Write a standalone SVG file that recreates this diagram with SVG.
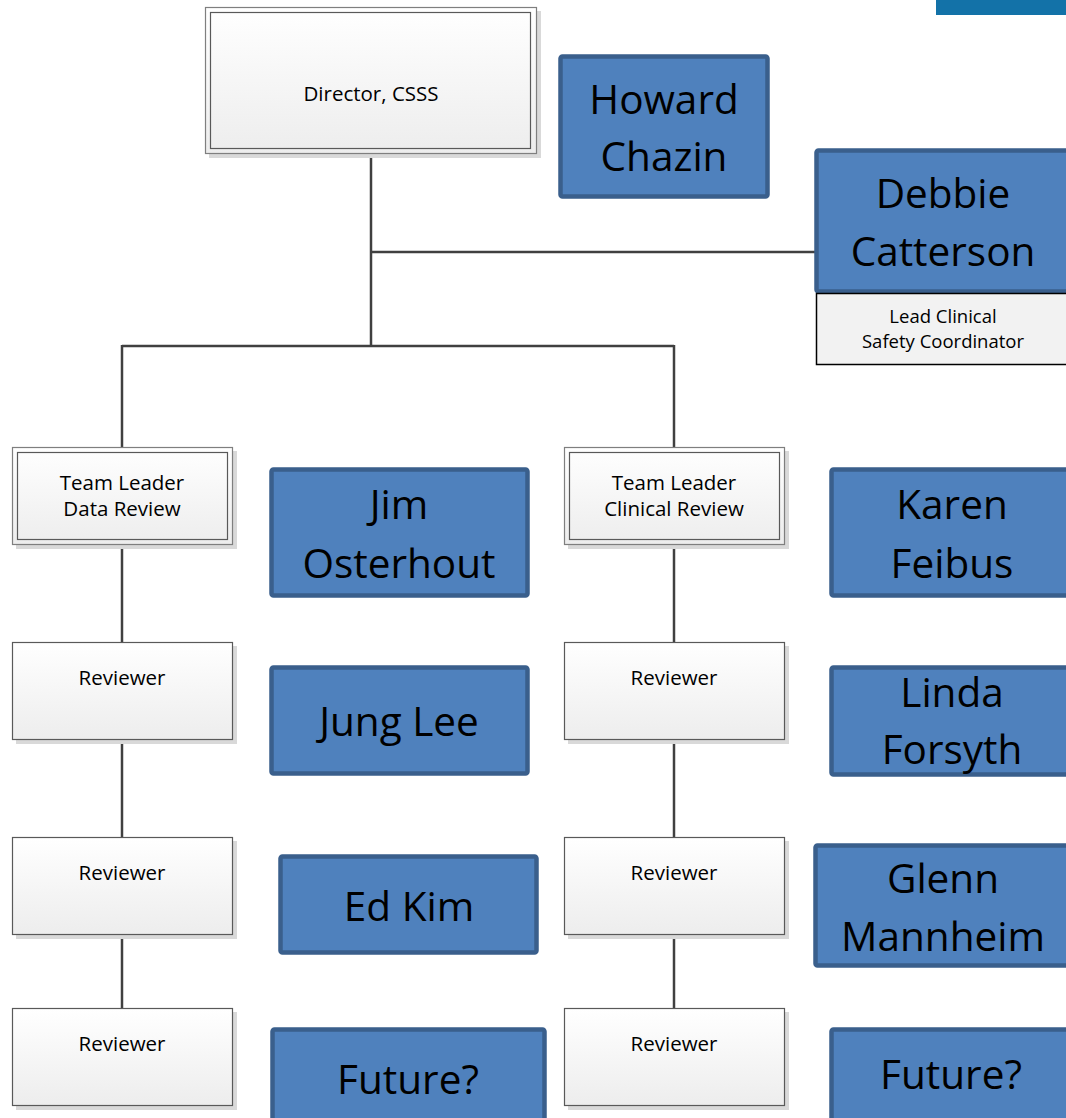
<svg xmlns="http://www.w3.org/2000/svg" width="1066" height="1118" viewBox="0 0 1066 1118">
<defs>
<linearGradient id="gw" x1="0" y1="0" x2="0" y2="1">
<stop offset="0" stop-color="#FFFFFF"/>
<stop offset="1" stop-color="#EDEDED"/>
</linearGradient>
</defs>
<style>
.shadow{fill:#D9D9D9;stroke:none}
.outer{fill:url(#gw);stroke:#7F7F7F;stroke-width:1.2}
.inner{fill:none;stroke:#595959;stroke-width:1.2}
.rev{fill:url(#gw);stroke:#595959;stroke-width:1.2}
.blue{fill:#4F81BD;stroke:#3A5F8C;stroke-width:4.5}
.sub{fill:#F2F2F2;stroke:#000000;stroke-width:1.5}
.conn line{stroke:#404040;stroke-width:2.5;fill:none}
.s{font-family:"Open Sans","Noto Sans",sans-serif;font-size:20.5px;fill:#000;text-anchor:middle}
.b{font-family:"Open Sans","Noto Sans",sans-serif;font-size:40.5px;fill:#000;text-anchor:middle}
</style>
<rect x="936" y="0" width="130" height="15" fill="#1372A8"/>
<g class="conn" id="connectors">
<line x1="371" y1="154" x2="371" y2="346"/>
<line x1="371" y1="252" x2="815" y2="252"/>
<line x1="122" y1="346" x2="674" y2="346"/>
<line x1="122" y1="345" x2="122" y2="447"/>
<line x1="674" y1="345" x2="674" y2="447"/>
<line x1="122" y1="545" x2="122" y2="642"/>
<line x1="122" y1="740" x2="122" y2="837"/>
<line x1="122" y1="935" x2="122" y2="1008"/>
<line x1="674" y1="545" x2="674" y2="642"/>
<line x1="674" y1="740" x2="674" y2="837"/>
<line x1="674" y1="935" x2="674" y2="1008"/>
</g>
<g id="director">
<rect class="shadow" x="209" y="11" width="332" height="147"/>
<rect class="outer" x="205.5" y="7.5" width="331" height="146"/>
<rect class="inner" x="210.5" y="12.5" width="320" height="136"/>
<text class="s" x="371" y="101">Director, CSSS</text>
</g>
<g id="howard">
<rect class="blue" x="560.5" y="56.5" width="207" height="140" rx="2"/>
<text class="b" x="664" y="114">Howard</text>
<text class="b" x="664" y="171">Chazin</text>
</g>
<g id="debbie">
<rect class="blue" x="816.5" y="150.5" width="260" height="141" rx="2"/>
<text class="b" x="943" y="208">Debbie</text>
<text class="b" x="943" y="266">Catterson</text>
<rect class="sub" x="816.5" y="293.5" width="260" height="71"/>
<text class="s" x="943" y="323" style="font-size:18.5px">Lead Clinical</text>
<text class="s" x="943" y="348" style="font-size:18.5px">Safety Coordinator</text>
</g>
<g id="tl-data">
<rect class="shadow" x="16" y="451" width="221" height="98"/>
<rect class="outer" x="12.5" y="447.5" width="220" height="97"/>
<rect class="inner" x="17.5" y="452.5" width="210" height="87"/>
<text class="s" x="122" y="490">Team Leader</text>
<text class="s" x="122" y="516">Data Review</text>
</g>
<g id="tl-clinical">
<rect class="shadow" x="568" y="451" width="221" height="98"/>
<rect class="outer" x="564.5" y="447.5" width="220" height="97"/>
<rect class="inner" x="569.5" y="452.5" width="210" height="87"/>
<text class="s" x="674" y="490">Team Leader</text>
<text class="s" x="674" y="516">Clinical Review</text>
</g>
<g id="jim">
<rect class="blue" x="271.5" y="469.5" width="256" height="126" rx="2"/>
<text class="b" x="399" y="519">Jim</text>
<text class="b" x="399" y="578">Osterhout</text>
</g>
<g id="karen">
<rect class="blue" x="831.5" y="469.5" width="245" height="126" rx="2"/>
<text class="b" x="952" y="519">Karen</text>
<text class="b" x="952" y="578">Feibus</text>
</g>
<g id="rev-l1">
<rect class="shadow" x="16" y="646" width="221" height="98"/>
<rect class="rev" x="12.5" y="642.5" width="220" height="97"/>
<text class="s" x="122" y="685">Reviewer</text>
</g>
<g id="rev-l2">
<rect class="shadow" x="16" y="841" width="221" height="98"/>
<rect class="rev" x="12.5" y="837.5" width="220" height="97"/>
<text class="s" x="122" y="880">Reviewer</text>
</g>
<g id="rev-l3">
<rect class="shadow" x="16" y="1012" width="221" height="98"/>
<rect class="rev" x="12.5" y="1008.5" width="220" height="97"/>
<text class="s" x="122" y="1051">Reviewer</text>
</g>
<g id="rev-r1">
<rect class="shadow" x="568" y="646" width="221" height="98"/>
<rect class="rev" x="564.5" y="642.5" width="220" height="97"/>
<text class="s" x="674" y="685">Reviewer</text>
</g>
<g id="rev-r2">
<rect class="shadow" x="568" y="841" width="221" height="98"/>
<rect class="rev" x="564.5" y="837.5" width="220" height="97"/>
<text class="s" x="674" y="880">Reviewer</text>
</g>
<g id="rev-r3">
<rect class="shadow" x="568" y="1012" width="221" height="98"/>
<rect class="rev" x="564.5" y="1008.5" width="220" height="97"/>
<text class="s" x="674" y="1051">Reviewer</text>
</g>
<g id="jung">
<rect class="blue" x="271.5" y="667.5" width="256" height="106" rx="2"/>
<text class="b" x="399" y="736">Jung Lee</text>
</g>
<g id="linda">
<rect class="blue" x="831.5" y="667.5" width="245" height="107" rx="2"/>
<text class="b" x="952" y="707">Linda</text>
<text class="b" x="952" y="764">Forsyth</text>
</g>
<g id="edkim">
<rect class="blue" x="280.5" y="856.5" width="256" height="96" rx="2"/>
<text class="b" x="409" y="921">Ed Kim</text>
</g>
<g id="glenn">
<rect class="blue" x="815.5" y="845.5" width="261" height="120" rx="2"/>
<text class="b" x="943" y="893">Glenn</text>
<text class="b" x="943" y="951">Mannheim</text>
</g>
<g id="future-l">
<rect class="blue" x="272.5" y="1029.5" width="272" height="100" rx="2"/>
<text class="b" x="408" y="1094">Future?</text>
</g>
<g id="future-r">
<rect class="blue" x="831.5" y="1029.5" width="245" height="100" rx="2"/>
<text class="b" x="951" y="1089">Future?</text>
</g>
</svg>
